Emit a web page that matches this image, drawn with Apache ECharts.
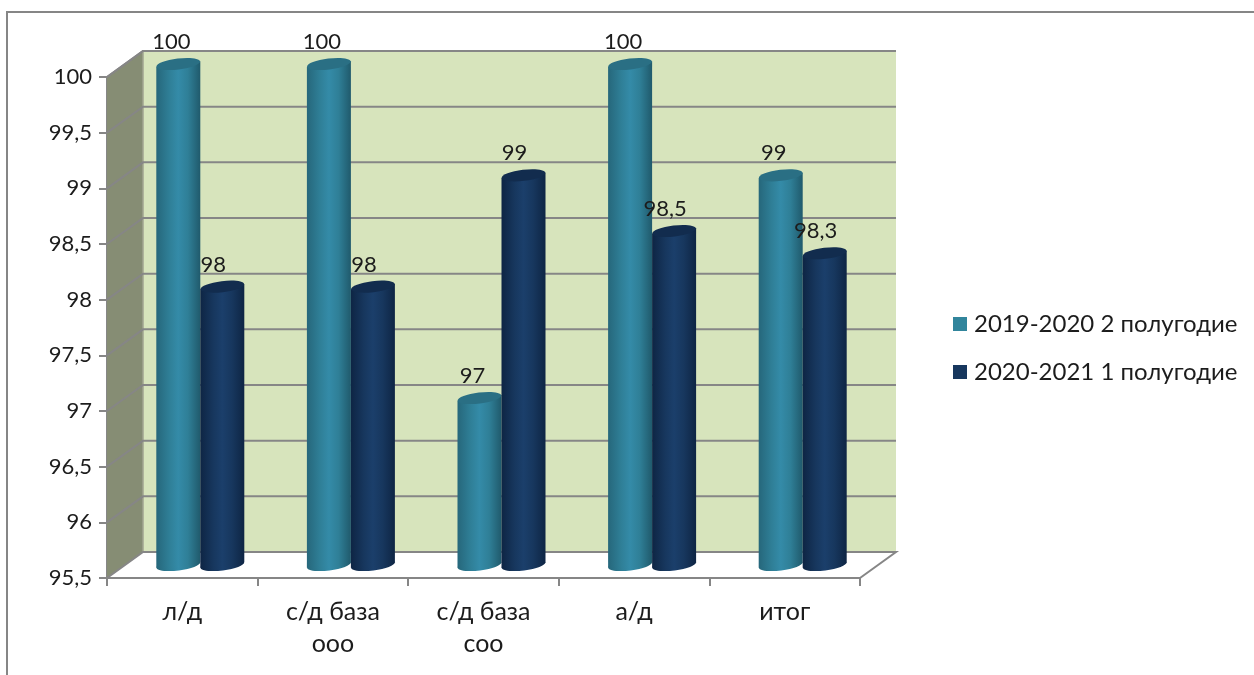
<!DOCTYPE html>
<html><head><meta charset="utf-8">
<style>html,body{margin:0;padding:0;background:#fff}#c{width:1254px;height:675px}</style>
<script src="https://cdn.jsdelivr.net/npm/echarts@6/dist/echarts.min.js"></script>
</head><body><div id="c"></div>
<script>
const categories = ['л/д', 'с/д база\nооо', 'с/д база\nсоо', 'а/д', 'итог'];
const seriesA = [100, 100, 97, 100, 99];
const seriesB = [98, 98, 99, 98.5, 98.3];
const nameA = '2019-2020 2 полугодие';
const nameB = '2020-2021 1 полугодие';
const yTicks = [96, 96.5, 97, 97.5, 98, 98.5, 99, 99.5, 100];
const FONT = 'Lato, "Open Sans", sans-serif';
const TXT = '#1c1c1c', GRAY = '#868686';
const DX = 36, DY = -26;
const comma = v => String(v).replace('.', ',');

function shaft(left, mid, center, right) {
  return { type: 'linear', x: 0, y: 0, x2: 1, y2: 0, colorStops: [
    { offset: 0, color: left }, { offset: 0.3, color: mid }, { offset: 0.5, color: center },
    { offset: 0.72, color: mid }, { offset: 1, color: right } ] };
}
function cylinder(side, labelShift, fill, topFill) {
  return function (params, api) {
    const i = api.value(0), v = api.value(1);
    const rx = 22, ry = 5.5, tilt = 0.12, rise = rx * Math.sin(tilt);
    const cx = api.coord([i, v])[0] + DX / 2 + side * rx;
    const yTop = api.coord([i, v])[1] + DY / 2;
    const yBase = api.coord([i, 95.5])[1] + DY / 2;
    return { type: 'group', children: [
      { type: 'ellipse', x: cx, y: yBase, rotation: tilt, shape: { cx: 0, cy: 0, rx: rx, ry: ry }, style: { fill: fill } },
      { type: 'polygon', shape: { points: [[cx - rx, yTop + rise], [cx + rx, yTop - rise], [cx + rx, yBase - rise], [cx - rx, yBase + rise]] }, style: { fill: fill } },
      { type: 'ellipse', x: cx, y: yTop, rotation: tilt, shape: { cx: 0, cy: 0, rx: rx, ry: ry }, style: { fill: topFill } },
      { type: 'text', z2: 50, style: { x: cx + labelShift, y: yTop - 22, text: comma(v), fill: TXT, font: '22px ' + FONT, align: 'center', verticalAlign: 'middle' } }
    ] };
  };
}
function walls(params, api) {
  const n = categories.length, half = api.size([1, 0])[0] / 2;
  const L = api.coord([0, 95.5])[0] - half, R = api.coord([n - 1, 95.5])[0] + half;
  const B = api.coord([0, 95.5])[1], T = api.coord([0, 100])[1];
  const line = { stroke: GRAY, lineWidth: 2, fill: null };
  return { type: 'group', children: [
    { type: 'polygon', shape: { points: [[L + DX, T + DY], [R + DX, T + DY], [R + DX, B + DY], [L + DX, B + DY]] }, style: { fill: '#d7e4bc' } },
    { type: 'polygon', shape: { points: [[L, T], [L + DX, T + DY], [L + DX, B + DY], [L, B]] }, style: { fill: '#868d74' } },
    { type: 'polyline', shape: { points: [[L, T], [L + DX, T + DY], [R + DX, T + DY]] }, style: line },
    { type: 'polyline', shape: { points: [[L + DX, T + DY], [L + DX, B + DY]] }, style: { stroke: '#a0a590', lineWidth: 1.5, fill: null } },
    { type: 'polyline', shape: { points: [[L, B], [L + DX, B + DY], [R + DX, B + DY], [R, B]] }, style: line }
  ] };
}
function gridline(params, api) {
  const n = categories.length, half = api.size([1, 0])[0] / 2, v = api.value(0);
  const L = api.coord([0, v])[0] - half, R = api.coord([n - 1, v])[0] + half, y = api.coord([0, v])[1];
  return { type: 'polyline', shape: { points: [[L, y], [L + DX, y + DY], [R + DX, y + DY]] },
    style: { stroke: GRAY, lineWidth: 2, fill: null } };
}
const chart = echarts.init(document.getElementById('c'), null, { renderer: 'canvas' });
chart.setOption({
  animation: false,
  backgroundColor: '#fff',
  graphic: [{ type: 'polyline', silent: true, z: 0,
    shape: { points: [[7, 675], [7, 12], [1254, 12]] }, style: { stroke: GRAY, lineWidth: 2, fill: null } }],
  grid: { left: 107, right: 394, top: 77, bottom: 97, containLabel: false },
  legend: { orient: 'vertical', left: 953, top: 312, padding: 0, itemWidth: 14, itemHeight: 14, itemGap: 24, icon: 'rect',
    data: [nameA, nameB], selectedMode: false,
    textStyle: { fontFamily: FONT, fontSize: 24, lineHeight: 24, color: TXT, padding: [0, 0, 0, 2] } },
  xAxis: { type: 'category', data: categories, boundaryGap: true,
    axisLine: { lineStyle: { color: GRAY, width: 2 } },
    axisTick: { show: true, length: 8, interval: 0, lineStyle: { color: GRAY, width: 2 } },
    axisLabel: { interval: 0, fontFamily: FONT, fontSize: 25, color: TXT, margin: 18, lineHeight: 32 },
    splitLine: { show: false } },
  yAxis: { type: 'value', min: 95.5, max: 100, interval: 0.5,
    axisLine: { show: true, lineStyle: { color: GRAY, width: 2 } },
    axisTick: { show: true, length: 8, lineStyle: { color: GRAY, width: 2 } },
    axisLabel: { fontFamily: FONT, fontSize: 22, color: TXT, margin: 15, formatter: comma, showMinLabel: true, showMaxLabel: true },
    splitLine: { show: false } },
  series: [
    { type: 'custom', name: 'walls', coordinateSystem: 'cartesian2d', z: 1, silent: true, data: [[0, 95.5]], renderItem: walls, encode: { x: 0, y: 1 } },
    { type: 'custom', name: 'grid', coordinateSystem: 'cartesian2d', z: 1.5, silent: true, data: yTicks.map(v => [v]), renderItem: gridline, encode: { y: 0 } },
    { type: 'custom', name: nameA, z: 3, silent: true, itemStyle: { color: '#31859c' },
      data: seriesA.map((v, i) => [i, v]), encode: { x: 0, y: 1 },
      renderItem: cylinder(-1, -7, shaft('#26677b', '#2f7f97', '#348ba8', '#205a6c'), '#2a6f84') },
    { type: 'custom', name: nameB, z: 4, silent: true, itemStyle: { color: '#17375e' },
      data: seriesB.map((v, i) => [i, v]), encode: { x: 0, y: 1 },
      renderItem: cylinder(1, -9, shaft('#0e2544', '#17375e', '#1b3f6b', '#0e2544'), '#122c4e') }
  ]
});
</script></body></html>
